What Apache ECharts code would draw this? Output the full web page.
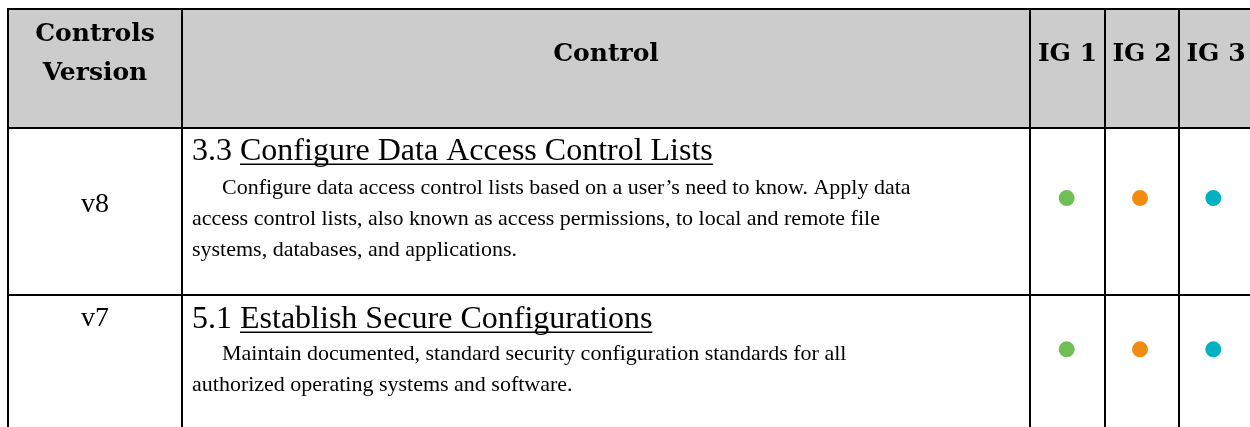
<!DOCTYPE html>
<html>
<head>
<meta charset="utf-8">
<title>CIS Controls table</title>
<script src="https://cdn.jsdelivr.net/npm/echarts@6/dist/echarts.min.js"></script>
<style>
  html, body { margin: 0; padding: 0; background: #ffffff; }
  #chart { width: 1250px; height: 427px; }
</style>
</head>
<body>
<div id="chart"></div>
<script>
// ---- data ----
const headerLabels = ['Controls\nVersion', 'Control'];
const igHeaders = ['IG 1', 'IG 2', 'IG 3'];
const versions = ['v8', 'v7'];
const controlNumbers = ['3.3', '5.1'];
const controlTitles = ['Configure Data Access Control Lists', 'Establish Secure Configurations'];
const controlDescriptions = [
  ['Configure data access control lists based on a user\u2019s need to know. Apply data',
   'access control lists, also known as access permissions, to local and remote file',
   'systems, databases, and applications.'],
  ['Maintain documented, standard security configuration standards for all',
   'authorized operating systems and software.']
];
const igMarks = [
  [1, 1, 1],
  [1, 1, 1]
];

// ---- style / layout ----
const igColors = ['#70bf55', '#f28c10', '#00b1c1'];
const colX = [8, 182, 1030, 1105, 1179];
const rowY = [9, 128, 295];
const W = 1250, H = 427;
const HEAD_FS = 25;
const HEAD_FONT = 'bold ' + HEAD_FS + 'px "DejaVu Serif"';
const TITLE_FS = 32, DESC_FS = 22, VER_FS = 28;
const TITLE_FONT = TITLE_FS + 'px "Liberation Serif"';
const DESC_FONT = DESC_FS + 'px "Liberation Serif"';
const VER_FONT = VER_FS + 'px "Liberation Serif"';
const MID = 0.3375; // baseline offset of 'middle' alignment (fraction of font size)
const titleBaselines = [162, 330];
const descFirstBaselines = [196, 362];
const descLineGap = 31;
const versionCenters = [205, 319];
const textLeft = 192, indent = 30;

const measureCtx = document.createElement('canvas').getContext('2d');
function textWidth(str, font) { measureCtx.font = font; return measureCtx.measureText(str).width; }

function txt(text, x, y, font, align) {
  return {
    type: 'text', x: x, y: y, silent: true, z: 10,
    style: { text: text, font: font, fill: '#000', align: align || 'left', verticalAlign: 'middle',
             textAlign: align || 'left', textVerticalAlign: 'middle' }
  };
}
function line(x1, y1, x2, y2, w) {
  return { type: 'line', silent: true, z: 5, shape: { x1: x1, y1: y1, x2: x2, y2: y2 },
           style: { stroke: '#000', lineWidth: w || 2 } };
}

const graphics = [];
// header fill
graphics.push({ type: 'rect', silent: true, z: 1, shape: { x: colX[0], y: rowY[0], width: W - colX[0], height: rowY[1] - rowY[0] },
                style: { fill: '#cccccc' } });
// horizontal rules
rowY.forEach(y => graphics.push(line(colX[0] - 1, y, W, y)));
// vertical rules
colX.forEach(x => graphics.push(line(x, rowY[0] - 1, x, H)));

// header texts
const hLines = headerLabels[0].split('\n');
const HMID = HEAD_FS * 0.346;
graphics.push(txt(hLines[0], (colX[0] + colX[1]) / 2, 43 - HMID, HEAD_FONT, 'center'));
graphics.push(txt(hLines[1], (colX[0] + colX[1]) / 2, 82 - HMID, HEAD_FONT, 'center'));
graphics.push(txt(headerLabels[1], (colX[1] + colX[2]) / 2, 63 - HMID, HEAD_FONT, 'center'));
const igColEdges = [colX[2], colX[3], colX[4], colX[4] + (colX[4] - colX[3])];
igHeaders.forEach((h, j) => {
  graphics.push(txt(h, (igColEdges[j] + igColEdges[j + 1]) / 2, 63 - HMID, HEAD_FONT, 'center'));
});

// body rows
versions.forEach((v, i) => {
  graphics.push(txt(v, (colX[0] + colX[1]) / 2, versionCenters[i], VER_FONT, 'center'));
  const prefix = controlNumbers[i] + ' ';
  const tb = titleBaselines[i];
  graphics.push(txt(prefix + controlTitles[i], textLeft, tb - TITLE_FS * MID, TITLE_FONT, 'left'));
  const ux = textLeft + textWidth(prefix, TITLE_FONT);
  const uw = textWidth(controlTitles[i], TITLE_FONT);
  graphics.push(line(ux, tb + 2.2, ux + uw, tb + 2.2, 1.6));
  controlDescriptions[i].forEach((ln, k) => {
    const b = descFirstBaselines[i] + k * descLineGap;
    graphics.push(txt(ln, textLeft + (k === 0 ? indent : 0), b - DESC_FS * MID, DESC_FONT, 'left'));
  });
});

// scatter marks for implementation groups
const markData = [];
versions.forEach((v, i) => {
  igHeaders.forEach((h, j) => {
    if (igMarks[i][j]) markData.push({ value: [h, v], itemStyle: { color: igColors[j], opacity: 1 } });
  });
});

const chart = echarts.init(document.getElementById('chart'), null, { renderer: 'canvas' });
chart.setOption({
  animation: false,
  backgroundColor: '#ffffff',
  grid: { left: 1030, top: 122.4, width: 224, height: 302.6, containLabel: false },
  xAxis: { type: 'category', data: igHeaders, show: false, boundaryGap: true },
  yAxis: { type: 'category', data: versions, inverse: true, show: false, boundaryGap: true },
  graphic: { elements: graphics },
  series: [{
    type: 'scatter',
    symbol: 'circle',
    symbolSize: 16,
    silent: true,
    z: 20,
    itemStyle: { opacity: 1 },
    data: markData
  }]
});
</script>
</body>
</html>
